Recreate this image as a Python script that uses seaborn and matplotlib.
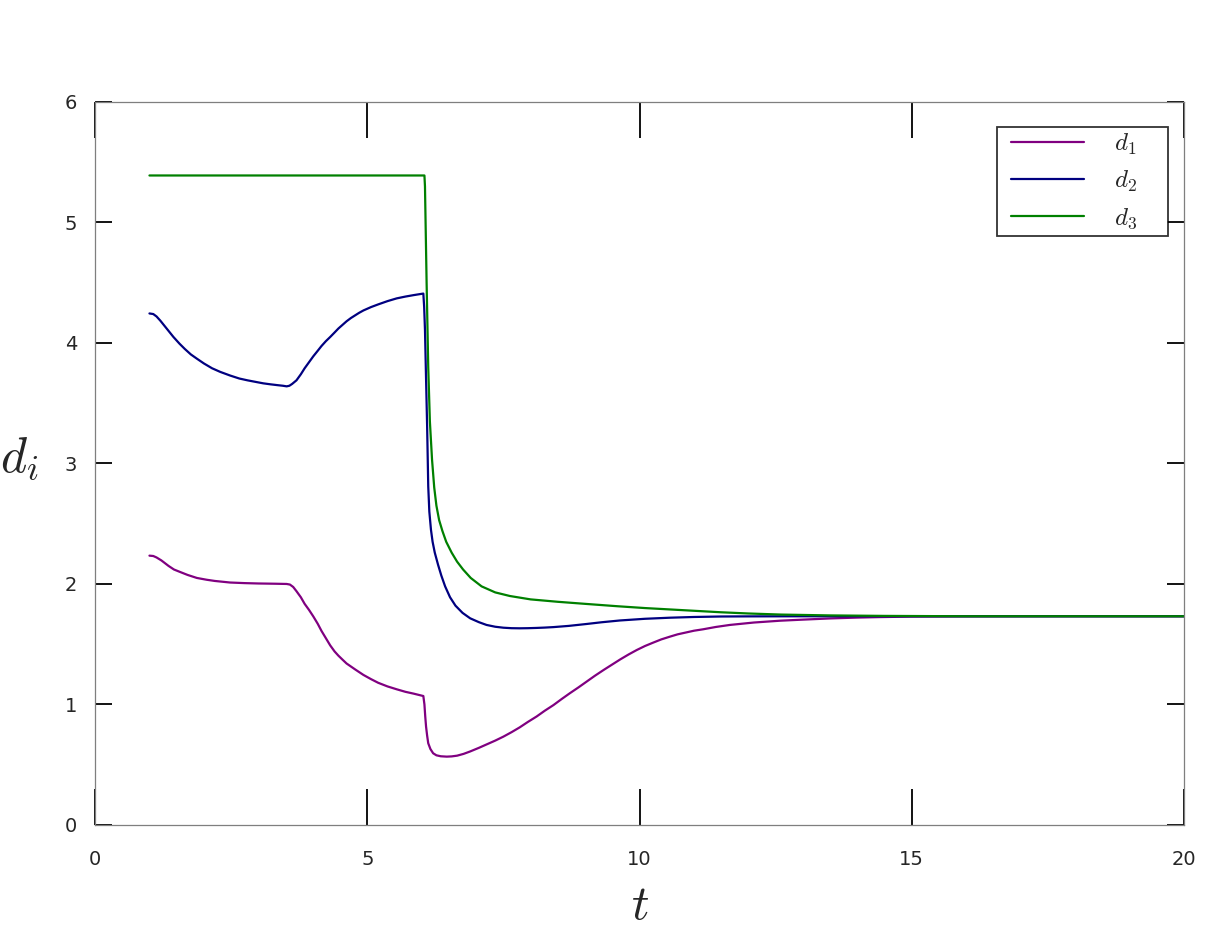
import matplotlib
matplotlib.use("Agg")
import matplotlib.pyplot as plt
import pandas as pd
import seaborn as sns
from matplotlib.legend_handler import HandlerLine2D
from matplotlib.lines import Line2D

# d1 (purple)
t1 = [1.0, 1.07, 1.13, 1.22, 1.35, 1.45, 1.56, 1.7, 1.87, 2.05, 2.2, 2.48, 2.75, 3.0, 3.3,
      3.52, 3.58, 3.64, 3.70, 3.78, 3.85, 3.93, 4.01, 4.09, 4.16, 4.24, 4.32, 4.40, 4.47,
      4.55, 4.62, 4.78, 4.93, 5.07, 5.2, 5.37, 5.54, 5.7, 5.85, 6.03,
      6.05, 6.065, 6.08, 6.10, 6.12, 6.16, 6.21, 6.27, 6.35, 6.46, 6.55, 6.65, 6.77,
      6.89, 7.05, 7.2, 7.35, 7.50, 7.65, 7.8, 7.95, 8.11, 8.26, 8.42, 8.57, 8.72, 8.88,
      9.03, 9.18, 9.34, 9.5, 9.65, 9.8, 9.95, 10.1, 10.25, 10.4, 10.56, 10.7, 10.86,
      11.0, 11.17, 11.4, 11.66, 12.1, 12.58, 13.0, 13.5, 14.0, 14.4, 15.0, 16.0, 18.0, 20.0]
d1 = [2.235, 2.232, 2.22, 2.195, 2.15, 2.12, 2.10, 2.075, 2.05, 2.035, 2.025, 2.012, 2.007,
      2.004, 2.002, 2.0, 1.995, 1.975, 1.94, 1.89, 1.835, 1.785, 1.73, 1.67, 1.61, 1.55,
      1.49, 1.44, 1.405, 1.37, 1.34, 1.29, 1.245, 1.21, 1.18, 1.15, 1.126, 1.105, 1.09,
      1.07, 1.0, 0.9, 0.816, 0.74, 0.678, 0.63, 0.595, 0.578, 0.570, 0.567, 0.569, 0.575,
      0.59, 0.61, 0.64, 0.67, 0.70, 0.733, 0.77, 0.81, 0.855, 0.90, 0.948, 0.995, 1.045,
      1.093, 1.142, 1.19, 1.238, 1.286, 1.332, 1.375, 1.415, 1.452, 1.485, 1.513, 1.54,
      1.563, 1.582, 1.598, 1.612, 1.624, 1.643, 1.66, 1.68, 1.695, 1.704, 1.714, 1.721,
      1.725, 1.729, 1.731, 1.732, 1.732]

# d2 (navy)
t2 = [1.0, 1.07, 1.13, 1.2, 1.28, 1.36, 1.44, 1.55, 1.65, 1.76, 1.87, 2.0, 2.15, 2.3, 2.48,
      2.65, 2.8, 2.95, 3.09, 3.22, 3.35, 3.45, 3.52, 3.57, 3.62, 3.70, 3.78, 3.85, 3.93,
      4.01, 4.09, 4.16, 4.24, 4.32, 4.40, 4.47, 4.55, 4.62, 4.70, 4.78, 4.85, 4.93, 5.07,
      5.2, 5.37, 5.54, 5.7, 5.85, 6.03,
      6.045, 6.06, 6.08, 6.10, 6.12, 6.14, 6.17, 6.20, 6.24, 6.30, 6.36, 6.43, 6.52,
      6.62, 6.75, 6.89, 7.05, 7.19, 7.35, 7.5, 7.65, 7.8, 7.95, 8.1, 8.26, 8.42, 8.7,
      9.03, 9.3, 9.64, 10.1, 10.56, 11.0, 11.5, 12.0, 13.0, 16.0, 20.0]
d2 = [4.245, 4.24, 4.22, 4.185, 4.14, 4.095, 4.05, 3.995, 3.95, 3.905, 3.87, 3.83, 3.79,
      3.76, 3.73, 3.705, 3.69, 3.677, 3.665, 3.657, 3.65, 3.645, 3.64, 3.645, 3.66, 3.69,
      3.74, 3.79, 3.84, 3.89, 3.935, 3.975, 4.015, 4.05, 4.087, 4.12, 4.152, 4.18, 4.207,
      4.23, 4.25, 4.27, 4.298, 4.32, 4.347, 4.37, 4.385, 4.397, 4.41,
      4.3, 4.11, 3.7, 3.30, 2.81, 2.60, 2.45, 2.35, 2.26, 2.16, 2.07, 1.98, 1.89,
      1.82, 1.76, 1.715, 1.683, 1.66, 1.645, 1.637, 1.633, 1.632, 1.633, 1.635, 1.638,
      1.642, 1.652, 1.668, 1.682, 1.697, 1.711, 1.72, 1.726, 1.73, 1.731, 1.732, 1.732,
      1.732]

# d3 (green)
t3 = [1.0, 2.0, 3.0, 4.0, 5.0, 6.05, 6.06, 6.075, 6.09, 6.12, 6.15, 6.19, 6.23, 6.27,
      6.32, 6.38, 6.45, 6.55, 6.65, 6.76, 6.9, 7.1, 7.35, 7.62, 8.0, 8.5, 9.0, 9.6, 10.1,
      10.7, 11.5, 12.0, 12.6, 13.5, 14.5, 16.0, 20.0]
d3 = [5.39, 5.39, 5.39, 5.39, 5.39, 5.39, 5.3, 4.9, 4.5, 3.8, 3.35, 3.03, 2.80, 2.65,
      2.53, 2.44, 2.35, 2.26, 2.185, 2.12, 2.05, 1.98, 1.93, 1.90, 1.872, 1.852, 1.835,
      1.815, 1.80, 1.785, 1.765, 1.755, 1.746, 1.739, 1.735, 1.732, 1.732]

labels = ["$d_1$", "$d_2$", "$d_3$"]
colors = ["#800080", "#000080", "#008000"]

df = pd.concat([
    pd.DataFrame({"t": t1, "d": d1, "series": labels[0]}),
    pd.DataFrame({"t": t2, "d": d2, "series": labels[1]}),
    pd.DataFrame({"t": t3, "d": d3, "series": labels[2]}),
])

sns.set_theme(style="white")
plt.rcParams["font.family"] = ["DejaVu Sans"]
plt.rcParams["mathtext.fontset"] = "cm"

fig = plt.figure(figsize=(12.29, 9.33), dpi=100)
ax = fig.add_axes([0.0773, 0.1158, 0.8861, 0.7749])

sns.lineplot(data=df, x="t", y="d", hue="series", palette=colors, estimator=None,
             sort=False, linewidth=1.6, ax=ax)

ax.set_xlim(0, 20)
ax.set_ylim(0, 6)
ax.set_xticks([0, 5, 10, 15, 20])
ax.set_yticks([0, 1, 2, 3, 4, 5, 6])

for s in ax.spines.values():
    s.set_color("#7f7f7f")
    s.set_linewidth(0.9)

ax.tick_params(axis="x", which="major", direction="in", length=26, width=1.3,
               color="black", top=True, bottom=True, labelsize=14,
               labelcolor="#262626", pad=18)
ax.tick_params(axis="y", which="major", direction="in", length=12.5, width=1.3,
               color="black", left=True, right=True, labelsize=14,
               labelcolor="#262626", pad=13)

ax.set_xlabel("$t$", fontsize=35, labelpad=9)
ax.set_ylabel("$d_i$", fontsize=36, rotation=0)
ax.yaxis.set_label_coords(-0.07, 0.475)

# legend: line starts a little inside the frame, extra room right of the labels
handles, labs = ax.get_legend_handles_labels()
labs = [lab + "    " for lab in labs]
leg = ax.legend(handles, labs, loc="upper right", bbox_to_anchor=(0.9853, 0.9654),
                borderaxespad=0, fontsize=18, handlelength=3.28, handletextpad=1.2,
                labelspacing=0.48, borderpad=0.19, fancybox=False, frameon=True,
                handler_map={Line2D: HandlerLine2D(xpad=0.36)})
leg.get_frame().set_edgecolor("black")
leg.get_frame().set_linewidth(1.3)
for line in leg.get_lines():
    line.set_linewidth(1.6)

fig.savefig("out.png", dpi=100)
